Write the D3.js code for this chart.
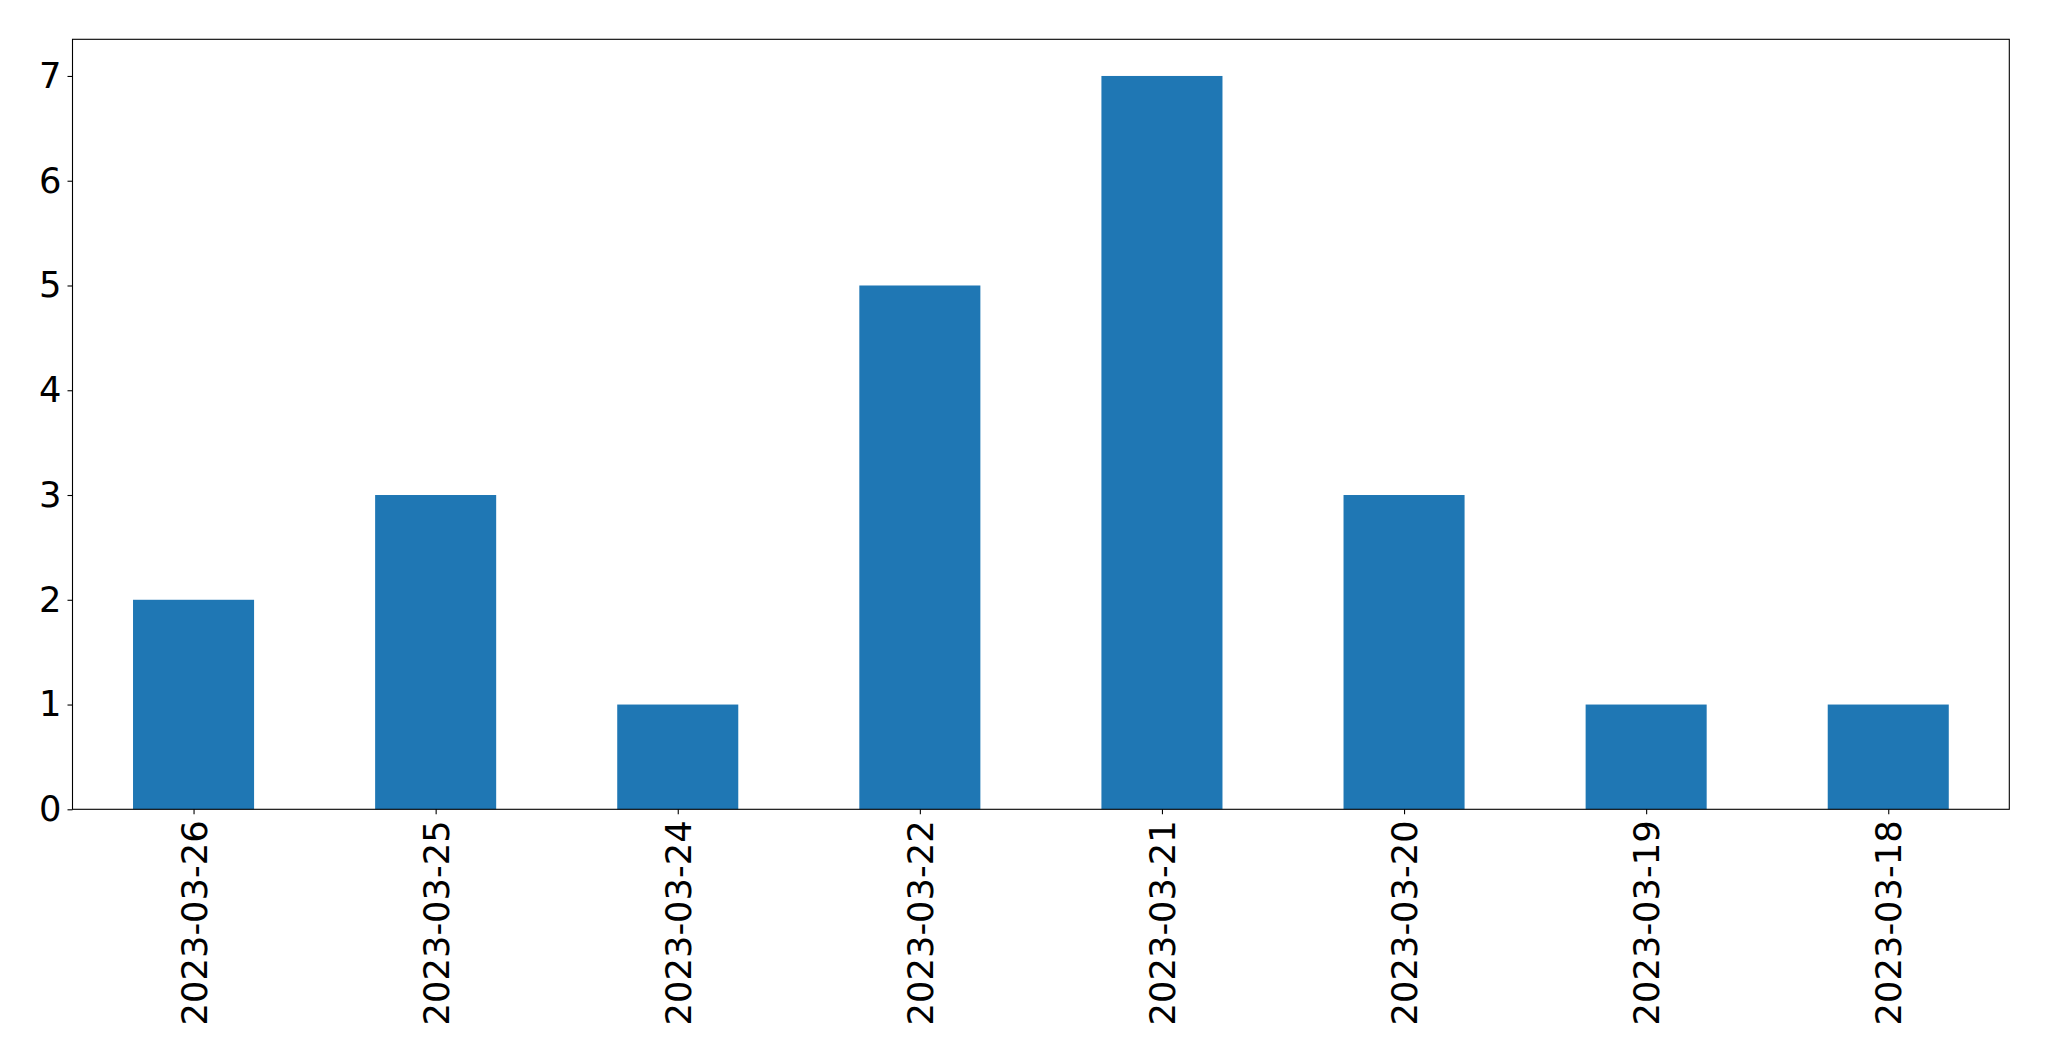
<!DOCTYPE html>
<html><head><meta charset="utf-8">
<script src="https://cdn.jsdelivr.net/npm/d3@7"></script>
<style>body{margin:0;background:#fff}svg{display:block}text{font-family:"DejaVu Sans",sans-serif;fill:#000}</style>
</head><body>
<svg id="c" width="2049" height="1061"></svg>
<script>
const categories = ["2023-03-26","2023-03-25","2023-03-24","2023-03-22","2023-03-21","2023-03-20","2023-03-19","2023-03-18"];
const values = [2,3,1,5,7,3,1,1];
const yTicks = [0,1,2,3,4,5,6,7];

const svg = d3.select("#c");
const L = 72.5, R = 2009.3, T = 39.3, B = 809.3;
const fs = 35.3;
const x = d3.scaleLinear().domain([-0.5, categories.length - 0.5]).range([L, R]);
const y = d3.scaleLinear().domain([0, d3.max(values) * 1.05]).range([B, T]);

svg.append("g").selectAll("rect").data(values).join("rect")
  .attr("x", (d,i) => x(i - 0.25)).attr("width", (d,i) => x(i + 0.25) - x(i - 0.25))
  .attr("y", d => y(d)).attr("height", d => y(0) - y(d))
  .attr("fill", "#1f77b4");

const yAxis = svg.append("g").attr("transform", `translate(${L},0)`)
  .call(d3.axisLeft(y).tickValues(yTicks).tickFormat(d3.format("d")).tickSize(5).tickPadding(6));
yAxis.select(".domain").remove();
yAxis.selectAll("text").style("font-size", fs + "px").attr("font-family", "DejaVu Sans");
yAxis.selectAll("line").attr("stroke", "#000").attr("stroke-width", 1.1);

const xAxis = svg.append("g").attr("transform", `translate(0,${B})`)
  .call(d3.axisBottom(x).tickValues(d3.range(categories.length)).tickFormat(i => categories[i]).tickSize(5).tickPadding(0));
xAxis.select(".domain").remove();
xAxis.selectAll("line").attr("stroke", "#000").attr("stroke-width", 1.1);
xAxis.selectAll("text")
  .style("font-size", fs + "px")
  .attr("font-family", "DejaVu Sans")
  .attr("text-anchor", "end")
  .attr("dy", null)
  .attr("dominant-baseline", "central")
  .attr("transform", "translate(0,11) rotate(-90)")
  .attr("x", 0).attr("y", 0);

svg.append("rect").attr("x", L).attr("y", T).attr("width", R - L).attr("height", B - T)
  .attr("fill", "none").attr("stroke", "#000").attr("stroke-width", 1.1);
</script>
</body></html>
